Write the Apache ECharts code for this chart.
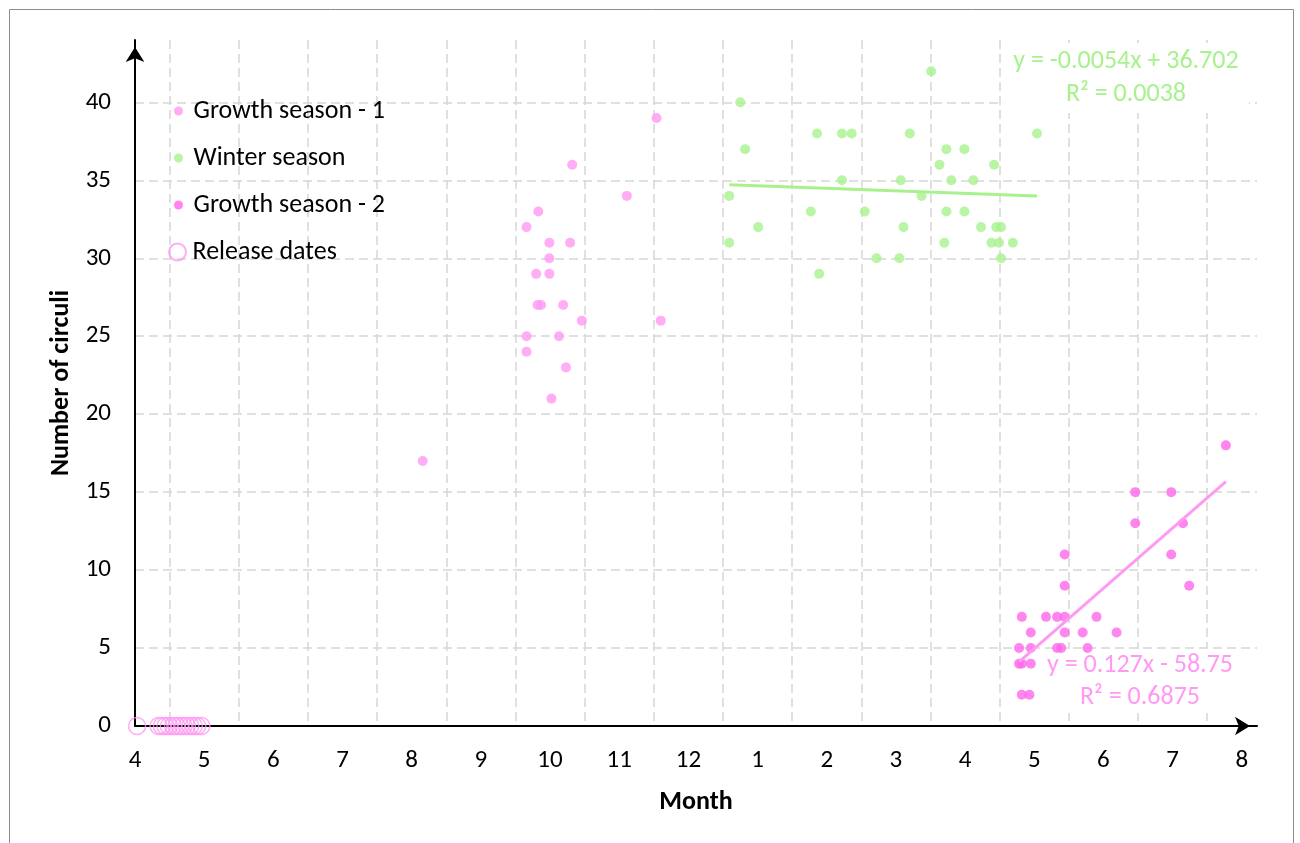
<!DOCTYPE html>
<html>
<head>
<meta charset="utf-8">
<script src="https://cdn.jsdelivr.net/npm/echarts@6/dist/echarts.min.js"></script>
<style>
  html, body { margin: 0; padding: 0; background: #ffffff; }
  #chart { width: 1300px; height: 843px; }
</style>
</head>
<body>
<div id="chart"></div>
<script>
// x values are months counted from 1 April of the release year
// (0 = April, 8 = December, 9 = January of the next year, 16 = August).
const monthTickLabels = ['4', '5', '6', '7', '8', '9', '10', '11', '12', '1', '2', '3', '4', '5', '6', '7', '8'];
const circuliTicks = [0, 5, 10, 15, 20, 25, 30, 35, 40];

const growth1X = [4.16, 5.66, 5.83, 6.32, 7.11, 7.54, 5.99, 6.29, 5.99, 5.80, 5.99, 5.82, 5.87, 6.19, 6.46, 7.60, 5.66, 6.13, 5.66, 6.23, 6.02];
const growth1Y = [17, 32, 33, 36, 34, 39, 31, 31, 30, 29, 29, 27, 27, 27, 26, 26, 25, 25, 24, 23, 21];

const winterX = [8.75, 8.82, 8.59, 8.59, 9.01, 9.86, 10.22, 10.36, 10.22, 9.77, 9.89, 10.55, 10.72, 11.05, 11.11, 11.07, 11.20, 11.37,
                 11.51, 11.73, 11.63, 11.80, 11.73, 11.70, 13.04, 11.99, 12.42, 12.12, 11.99, 12.23, 12.45, 12.52, 12.38, 12.49, 12.69, 12.52];
const winterY = [40, 37, 34, 31, 32, 38, 38, 38, 35, 33, 29, 33, 30, 30, 32, 35, 38, 34,
                 42, 37, 36, 35, 33, 31, 38, 37, 36, 35, 33, 32, 32, 32, 31, 31, 31, 30];

const growth2X = [15.77, 14.46, 14.98, 14.46, 15.15, 14.98, 13.44, 13.44, 15.24, 12.82, 13.17, 13.33, 13.44, 13.90,
                  12.95, 13.44, 13.70, 14.19, 12.78, 12.95, 13.33, 13.39, 13.77, 12.78, 12.82, 12.95, 12.82, 12.93];
const growth2Y = [18, 15, 15, 13, 13, 11, 11, 9, 9, 7, 7, 7, 7, 7,
                  6, 6, 6, 6, 5, 5, 5, 5, 5, 4, 4, 4, 2, 2];

const releaseX = [0.03, 0.34, 0.39, 0.44, 0.49, 0.55, 0.60, 0.65, 0.70, 0.75, 0.80, 0.85, 0.90, 0.96];
const releaseY = [0, 0, 0, 0, 0, 0, 0, 0, 0, 0, 0, 0, 0, 0];

// Linear trends, fitted against day number (x in days)
const winterTrend = { slope: -0.0054, intercept: 36.702, r2: '0.0038' };
const growth2Trend = { slope: 0.127, intercept: -58.75, r2: '0.6875' };
const TREND_DAY_OFFSET = 106;      // day number of 1 April
const DAYS_PER_MONTH = 30.4375;

const C_G1 = '#FF99F3';
const C_WINTER = '#A8F28E';
const C_G2 = '#FF66EB';
const C_G2_TREND = '#FF99F3';
const FONT = 'Carlito, Lato, sans-serif';

function pairs(xs, ys) { return xs.map((x, i) => [x, ys[i]]); }

function trendLine(xs, t) {
  const lo = Math.min(...xs), hi = Math.max(...xs);
  const yAt = m => t.slope * (TREND_DAY_OFFSET + m * DAYS_PER_MONTH) + t.intercept;
  return [[lo, yAt(lo)], [hi, yAt(hi)]];
}

function equation(t) {
  const s = t.slope, b = t.intercept;
  const sign = b < 0 ? ' - ' : ' + ';
  return 'y = ' + s + 'x' + sign + Math.abs(b) + '\nR² = ' + t.r2;
}

const chart = echarts.init(document.getElementById('chart'), null, { renderer: 'canvas' });

const dashed = { color: '#D6D6D6', width: 1.5, type: [9, 5] };
const legendText = { fontFamily: FONT, fontSize: 26, color: '#000', lineHeight: 28 };

chart.setOption({
  animation: false,
  backgroundColor: '#ffffff',
  textStyle: { fontFamily: FONT },
  grid: { left: 135, right: 43, top: 40, bottom: 117, containLabel: false },
  xAxis: {
    type: 'value',
    min: 0,
    max: 16.22,
    interval: 1,
    name: 'Month',
    nameLocation: 'middle',
    nameGap: 63,
    nameTextStyle: { fontFamily: FONT, fontSize: 26, fontWeight: 'bold', color: '#000' },
    axisLine: {
      show: true,
      symbol: ['none', 'arrow'],
      symbolSize: [14, 15],
      symbolOffset: [0, -7],
      lineStyle: { color: '#000', width: 2 }
    },
    axisTick: { show: false },
    axisLabel: {
      margin: 22,
      fontFamily: FONT,
      fontSize: 25,
      color: '#000',
      showMaxLabel: false,
      formatter: v => (Number.isInteger(v) && monthTickLabels[v] !== undefined) ? monthTickLabels[v] : ''
    },
    splitLine: { show: false },
    minorTick: { show: false, splitNumber: 2 },
    minorSplitLine: { show: true, lineStyle: dashed }
  },
  yAxis: {
    type: 'value',
    min: 0,
    max: 44,
    interval: 5,
    name: 'Number of circuli',
    nameLocation: 'middle',
    nameGap: 61,
    nameTextStyle: { fontFamily: FONT, fontSize: 26, fontWeight: 'bold', color: '#000' },
    axisLine: {
      show: true,
      symbol: ['none', 'arrow'],
      symbolSize: [14, 15],
      symbolOffset: [0, -7],
      lineStyle: { color: '#000', width: 2 }
    },
    axisTick: { show: false },
    axisLabel: {
      margin: 24,
      fontFamily: FONT,
      fontSize: 25,
      color: '#000',
      formatter: v => circuliTicks.includes(v) ? String(v) : ''
    },
    splitLine: { show: true, showMinLine: false, showMaxLine: false, lineStyle: dashed }
  },
  legend: [
    {
      data: ['Growth season - 1', 'Winter season', 'Growth season - 2'],
      orient: 'vertical',
      left: 174,
      top: 97,
      padding: 0,
      itemWidth: 20,
      itemHeight: 9,
      itemGap: 19,
      selectedMode: false,
      textStyle: legendText
    },
    {
      data: ['Release dates'],
      orient: 'vertical',
      left: 168,
      top: 238,
      padding: 0,
      itemWidth: 20,
      itemHeight: 17,
      selectedMode: false,
      textStyle: legendText
    }
  ],
  graphic: [
    {
      type: 'rect',
      z: 0,
      silent: true,
      shape: { x: 9.5, y: 9.5, width: 1284, height: 850 },
      style: { fill: 'none', stroke: '#8C8C8C', lineWidth: 1 }
    },
    {
      type: 'text',
      z: 1,
      silent: true,
      x: 1126,
      y: 78,
      style: {
        text: equation(winterTrend),
        fill: C_WINTER,
        font: '26px ' + FONT,
        align: 'center',
        verticalAlign: 'middle',
        lineHeight: 33,
        backgroundColor: '#ffffff',
        padding: [2, 10, 2, 10]
      }
    },
    {
      type: 'text',
      z: 1,
      silent: true,
      x: 1140,
      y: 681,
      style: {
        text: equation(growth2Trend),
        fill: C_G2_TREND,
        font: '26px ' + FONT,
        align: 'center',
        verticalAlign: 'middle',
        lineHeight: 32,
        backgroundColor: '#ffffff',
        padding: [0, 4, 0, 4]
      }
    }
  ],
  series: [
    {
      name: 'Growth season - 1',
      type: 'scatter',
      symbol: 'circle',
      symbolSize: 10,
      itemStyle: { color: C_G1 },
      data: pairs(growth1X, growth1Y),
      z: 3
    },
    {
      name: 'Winter season',
      type: 'scatter',
      symbol: 'circle',
      symbolSize: 10,
      itemStyle: { color: C_WINTER },
      data: pairs(winterX, winterY),
      z: 3
    },
    {
      name: 'Growth season - 2',
      type: 'scatter',
      symbol: 'circle',
      symbolSize: 10,
      itemStyle: { color: C_G2 },
      data: pairs(growth2X, growth2Y),
      z: 3
    },
    {
      name: 'Release dates',
      type: 'scatter',
      symbol: 'circle',
      symbolSize: 17,
      itemStyle: { color: 'rgba(255,255,255,0)', borderColor: C_G1, borderWidth: 1.5 },
      data: pairs(releaseX, releaseY),
      z: 3
    },
    {
      name: 'Winter trend',
      type: 'line',
      symbol: 'none',
      lineStyle: { color: C_WINTER, width: 3 },
      data: trendLine(winterX, winterTrend),
      z: 4
    },
    {
      name: 'Growth 2 trend',
      type: 'line',
      symbol: 'none',
      lineStyle: { color: C_G2_TREND, width: 3 },
      data: trendLine(growth2X, growth2Trend),
      z: 4
    }
  ]
});
</script>
</body>
</html>
